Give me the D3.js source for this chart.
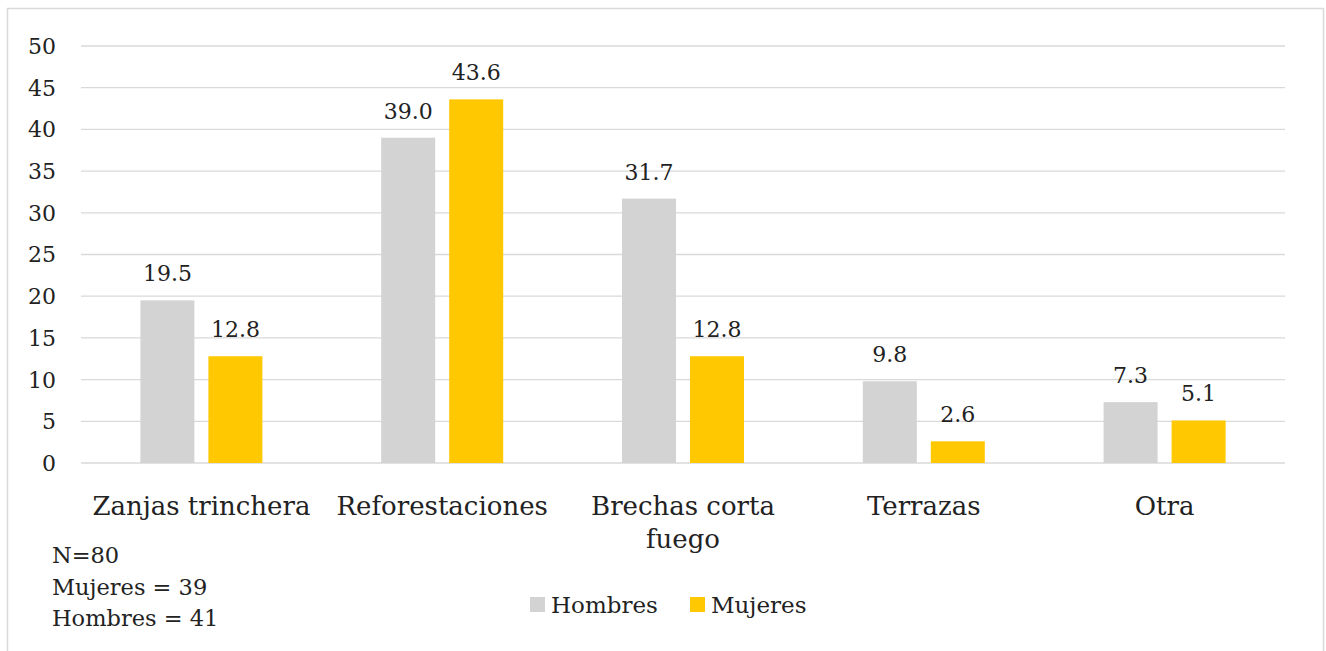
<!DOCTYPE html>
<html>
<head>
<meta charset="utf-8">
<script src="https://cdn.jsdelivr.net/npm/d3@7"></script>
<style>
  body { margin: 0; background: #fff; }
  text { font-family: "DejaVu Serif", serif; fill: #222; }
</style>
</head>
<body>
<svg id="chart"></svg>
<script>
const categories = ["Zanjas trinchera", "Reforestaciones", "Brechas corta fuego", "Terrazas", "Otra"];
const hombres = [19.5, 39.0, 31.7, 9.8, 7.3];
const mujeres = [12.8, 43.6, 12.8, 2.6, 5.1];
const seriesNames = ["Hombres", "Mujeres"];
const yTicks = [0, 5, 10, 15, 20, 25, 30, 35, 40, 45, 50];
const notes = ["N=80", "Mujeres = 39", "Hombres = 41"];

const width = 1326, height = 651;
const margin = { top: 46, right: 41, bottom: 188, left: 81 };
const colors = { Hombres: "#d3d3d3", Mujeres: "#ffc800" };

const svg = d3.select("#chart").attr("width", width).attr("height", height);

// outer frame
svg.append("rect")
    .attr("x", 7.5).attr("y", 8.5)
    .attr("width", 1316).attr("height", 660)
    .attr("fill", "none").attr("stroke", "#d9d9d9").attr("stroke-width", 1.5);

const innerW = width - margin.left - margin.right;
const innerH = height - margin.top - margin.bottom;

const g = svg.append("g").attr("transform", `translate(${margin.left},${margin.top})`);

const x0 = d3.scaleBand().domain(categories).range([0, innerW]).padding(0);
const x1 = d3.scaleBand().domain(seriesNames).range([0, 122]).paddingInner(0.206);
const y = d3.scaleLinear().domain([0, 50]).range([innerH, 0]);

// gridlines
g.append("g")
    .selectAll("line")
    .data(yTicks)
    .join("line")
    .attr("x1", 0).attr("x2", innerW)
    .attr("y1", d => y(d)).attr("y2", d => y(d))
    .attr("stroke", "#d9d9d9").attr("stroke-width", 1.3);

// y tick labels
g.append("g")
    .selectAll("text")
    .data(yTicks)
    .join("text")
    .attr("x", -25).attr("y", d => y(d))
    .attr("dy", "0.36em")
    .attr("text-anchor", "end")
    .attr("font-size", 22)
    .text(d => d);

const rows = categories.map((c, i) => ({ cat: c, values: [
    { key: "Hombres", value: hombres[i] },
    { key: "Mujeres", value: mujeres[i] }
]}));

const groups = g.selectAll(".cat")
    .data(rows)
    .join("g")
    .attr("class", "cat")
    .attr("transform", d => `translate(${x0(d.cat) + x0.bandwidth() / 2 - 61},0)`);

groups.selectAll("rect")
    .data(d => d.values)
    .join("rect")
    .attr("x", d => x1(d.key))
    .attr("width", x1.bandwidth())
    .attr("y", d => y(d.value))
    .attr("height", d => y(0) - y(d.value))
    .attr("fill", d => colors[d.key]);

groups.selectAll(".lbl")
    .data(d => d.values)
    .join("text")
    .attr("class", "lbl")
    .attr("x", d => x1(d.key) + x1.bandwidth() / 2)
    .attr("y", d => y(d.value) - 19)
    .attr("text-anchor", "middle")
    .attr("font-size", 22)
    .text(d => d.value.toFixed(1));

// category labels (wrap long one)
const catLines = { "Brechas corta fuego": ["Brechas corta", "fuego"] };
g.append("g")
    .selectAll("text")
    .data(categories)
    .join("text")
    .attr("x", d => x0(d) + x0.bandwidth() / 2)
    .attr("y", innerH + 52)
    .attr("text-anchor", "middle")
    .attr("font-size", 26)
    .each(function (d) {
        const lines = catLines[d] || [d];
        d3.select(this).selectAll("tspan")
            .data(lines)
            .join("tspan")
            .attr("x", x0(d) + x0.bandwidth() / 2)
            .attr("dy", (l, i) => i === 0 ? 0 : 33)
            .text(l => l);
    });

// notes
svg.append("g")
    .selectAll("text")
    .data(notes)
    .join("text")
    .attr("x", 52)
    .attr("y", (d, i) => 563 + i * 31.5)
    .attr("font-size", 22.5)
    .text(d => d);

// legend
const legend = svg.append("g").attr("transform", "translate(530,597)");
const legItems = legend.selectAll("g")
    .data(seriesNames)
    .join("g")
    .attr("transform", (d, i) => `translate(${i * 160},0)`);
legItems.append("rect")
    .attr("width", 15).attr("height", 15)
    .attr("fill", d => colors[d]);
legItems.append("text")
    .attr("x", 21).attr("y", 16)
    .attr("font-size", 23)
    .text(d => d);
</script>
</body>
</html>
